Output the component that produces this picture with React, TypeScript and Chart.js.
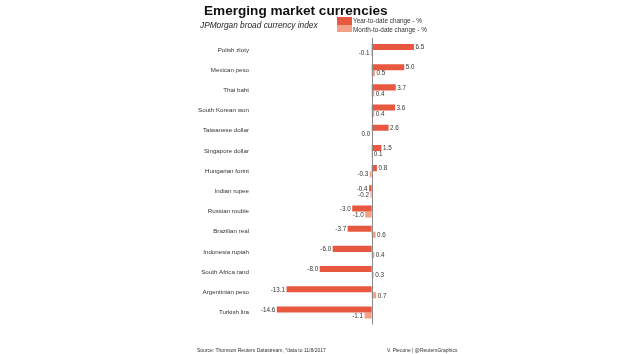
import React, { useEffect, useRef } from "react";
import { Chart, registerables } from "chart.js";

Chart.register(...registerables);

const categories = [
  "Polish zloty",
  "Mexican peso",
  "Thai baht",
  "South Korean won",
  "Taiwanese dollar",
  "Singapore dollar",
  "Hungarian forint",
  "Indian rupee",
  "Russian rouble",
  "Brazilian real",
  "Indonesia rupiah",
  "South Africa rand",
  "Argentinian peso",
  "Turkish lira",
];
const ytdChange = [6.5, 5.0, 3.7, 3.6, 2.6, 1.5, 0.8, -0.4, -3.0, -3.7, -6.0, -8.0, -13.1, -14.6];
const mtdChange = [-0.1, 0.5, 0.4, 0.4, 0.0, 0.1, -0.3, -0.2, -1.0, 0.6, 0.4, 0.3, 0.7, -1.1];
const seriesNames = ["Year-to-date change - %", "Month-to-date change - %"];
const titleText = "Emerging market currencies";
const subtitleText = "JPMorgan broad currency index";
const sourceText = "Source: Thomson Reuters Datastream, *data to 11/8/2017";
const creditText = "V. Piecone | @ReutersGraphics";

const YTD_COLOR = "#E8573F";
const MTD_COLOR = "#F3A185";
const FONT = '"Liberation Sans", Arial, Helvetica, sans-serif';

const valueLabels = {
  id: "valueLabels",
  afterDatasetsDraw(chart: any) {
    const ctx = chart.ctx;
    ctx.save();
    ctx.font = `6.3px ${FONT}`;
    ctx.fillStyle = "#333";
    ctx.textBaseline = "middle";
    chart.data.datasets.forEach((ds: any, di: number) => {
      const meta = chart.getDatasetMeta(di);
      meta.data.forEach((el: any, i: number) => {
        const v = ds.data[i] as number;
        const txt = v.toFixed(1);
        if (v > 0) {
          ctx.textAlign = "left";
          ctx.fillText(txt, el.x + 1.5, el.y + 0.5);
        } else {
          ctx.textAlign = "right";
          ctx.fillText(txt, el.x - 1.5, el.y + 0.5);
        }
      });
    });
    // zero line
    const xs = chart.scales.x;
    const x0 = Math.round(xs.getPixelForValue(0)) + 0.5;
    ctx.strokeStyle = "#8a8a8a";
    ctx.lineWidth = 1;
    ctx.beginPath();
    ctx.moveTo(x0, chart.chartArea.top - 2);
    ctx.lineTo(x0, chart.chartArea.bottom + 2);
    ctx.stroke();
    ctx.restore();
  },
};

export default function App() {
  const ref = useRef<HTMLCanvasElement | null>(null);

  useEffect(() => {
    document.body.style.margin = "0";
    const canvas = ref.current;
    if (!canvas) return;
    const chart = new Chart(canvas, {
      type: "bar",
      data: {
        labels: categories,
        datasets: [
          {
            label: seriesNames[0],
            data: ytdChange,
            backgroundColor: YTD_COLOR,
            categoryPercentage: 0.6,
            barPercentage: 1.0,
          },
          {
            label: seriesNames[1],
            data: mtdChange,
            backgroundColor: MTD_COLOR,
            categoryPercentage: 0.6,
            barPercentage: 1.0,
          },
        ],
      },
      options: {
        indexAxis: "y",
        animation: false,
        responsive: false,
        devicePixelRatio: 1,
        layout: { padding: { left: 0, right: 196.3, top: 39.9, bottom: 31.4 } },
        plugins: {
          legend: { display: false },
          tooltip: { enabled: false },
          title: { display: false },
        },
        scales: {
          x: {
            display: false,
            min: -16,
            max: 8,
          },
          y: {
            grid: { display: false, drawTicks: false },
            border: { display: false },
            ticks: {
              font: { family: FONT, size: 6.2 },
              color: "#333",
              padding: 18.7,
              autoSkip: false,
            },
            afterFit(scale: any) {
              scale.width = 267.7;
            },
          },
        },
      },
      plugins: [valueLabels],
    } as any);
    return () => chart.destroy();
  }, []);

  const abs = (extra: React.CSSProperties): React.CSSProperties => ({
    position: "absolute",
    whiteSpace: "nowrap",
    fontFamily: FONT,
    color: "#222",
    ...extra,
  });

  return (
    <div style={{ position: "relative", width: 620, height: 354, background: "#fff", overflow: "hidden" }}>
      <canvas ref={ref} width={620} height={354} style={{ position: "absolute", left: 0, top: 0 }} />
      <div style={abs({ left: 204, top: 3, fontSize: 13.6, lineHeight: "16px", fontWeight: "bold", color: "#111" })}>
        {titleText}
      </div>
      <div style={abs({ left: 200, top: 20, fontSize: 8.3, lineHeight: "10px", fontStyle: "italic", color: "#222" })}>
        {subtitleText}
      </div>
      <div style={{ position: "absolute", left: 337, top: 17, width: 15, height: 7.5, background: YTD_COLOR }} />
      <div style={{ position: "absolute", left: 337, top: 24.5, width: 15, height: 7, background: MTD_COLOR }} />
      <div style={abs({ left: 353, top: 16, fontSize: 6.4, lineHeight: "9px", color: "#333" })}>{seriesNames[0]}</div>
      <div style={abs({ left: 353, top: 25, fontSize: 6.4, lineHeight: "9px", color: "#333" })}>{seriesNames[1]}</div>
      <div style={abs({ left: 197, top: 346, fontSize: 5, lineHeight: "8px", color: "#333" })}>{sourceText}</div>
      <div style={abs({ left: 387, top: 346, fontSize: 5, lineHeight: "8px", color: "#333" })}>{creditText}</div>
    </div>
  );
}
